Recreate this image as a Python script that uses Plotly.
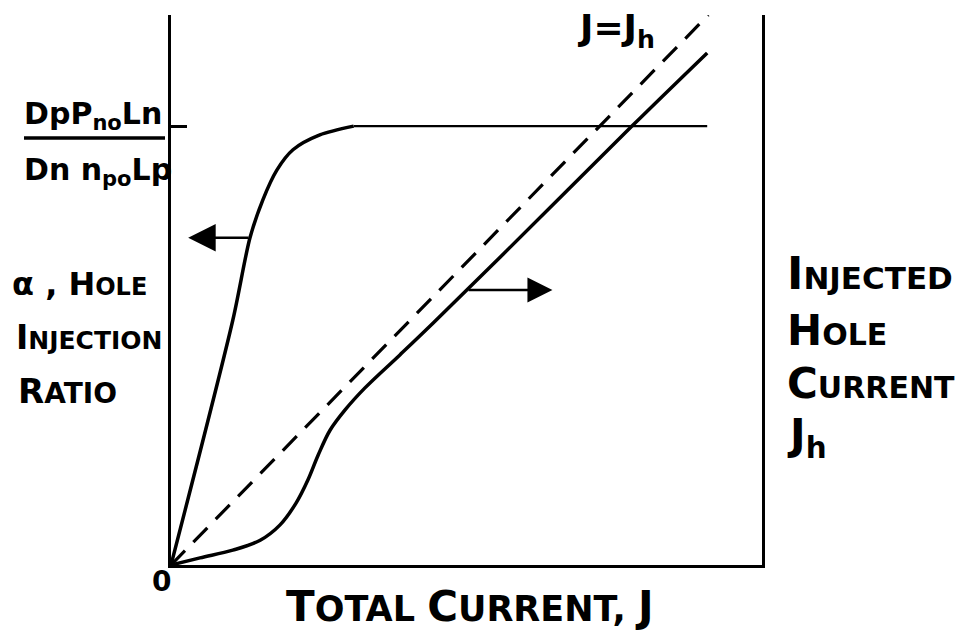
import plotly.graph_objects as go

# ---- data ----
# Injected hole current Jh vs total current J (right axis)
J_jh = [0, 0.54, 1.15, 1.66, 2.03, 2.33, 2.55, 2.74, 2.96, 3.24, 3.61, 4.26, 4.88, 6.13, 8.58, 9.98]
Jh = [0, 0.13, 0.27, 0.45, 0.73, 1.13, 1.55, 2.0, 2.45, 2.82, 3.22, 3.82, 4.40, 5.60, 7.98, 9.31]
# reference line J = Jh
J_ref = [0, 10]
Jh_ref = [0, 10]
# hole injection ratio alpha vs total current J (left axis)
J_alpha = [0, 1.15, 1.47, 1.71, 1.97, 2.27, 2.77, 3.4]
alpha = [0, 0.445, 0.595, 0.664, 0.718, 0.755, 0.782, 0.798]
alpha_sat = 0.798
J_sat = [3.4, 9.98]
# arrows pointing to each curve's axis
arrow_left = dict(J_from=1.47, J_to=0.32, val=0.595)
arrow_right = dict(J_from=5.51, J_to=7.10, val=5.0)

FONT = "DejaVu Sans"

fig = go.Figure()

fig.add_trace(go.Scatter(x=J_alpha, y=alpha, mode="lines", yaxis="y",
                         line=dict(color="black", width=3.5, shape="spline", smoothing=0.8),
                         hoverinfo="skip"))
fig.add_trace(go.Scatter(x=J_sat, y=[alpha_sat, alpha_sat], mode="lines", yaxis="y",
                         line=dict(color="black", width=2.2), hoverinfo="skip"))
fig.add_trace(go.Scatter(x=J_ref, y=Jh_ref, mode="lines", yaxis="y2",
                         line=dict(color="black", width=3.2, dash="20px,12px"),
                         hoverinfo="skip"))
fig.add_trace(go.Scatter(x=J_jh, y=Jh, mode="lines", yaxis="y2",
                         line=dict(color="black", width=3.5, shape="spline", smoothing=1.0),
                         hoverinfo="skip"))

L, R, T, B = 171, 205, 15, 70
W, H = 967, 635
PW, PH = W - L - R, H - T - B


def px(xp):
    return (xp - L) / PW


def py(yp):
    return (H - B - yp) / PH


def sc(first, rest, small):
    return f"{first}<span style='font-size:{small}px'>{rest}</span>"


anns = []


def label(text, x, y, size, xanchor="left"):
    anns.append(dict(text=text, x=px(x), y=py(y), xref="paper", yref="paper",
                     xanchor=xanchor, yanchor="middle", showarrow=False,
                     font=dict(family=FONT, size=size, color="black", weight="bold")))


# right axis title (small caps look)
label(sc("I", "NJECTED", 31), 785, 273, 44)
label(sc("H", "OLE", 30), 785, 331, 42)
label(sc("C", "URRENT", 30), 785, 383, 42)
label("J<sub>h</sub>", 785, 437, 42)

# left axis title
label("α , " + sc("H", "OLE", 24), 10, 284, 32)
label(sc("I", "NJECTION", 25), 14, 337, 33)
label(sc("R", "ATIO", 28), 16, 391, 34)

# saturation value fraction
label("DpP<sub>no</sub>Ln", 22, 116, 30)
label("Dn n<sub>po</sub>Lp", 22, 172, 30)

# x axis title
label(sc("T", "OTAL ", 35) + sc("C", "URRENT, ", 35) + "J", 470, 606, 42,
      xanchor="center")

# J = Jh reference line label
label("J=J<sub>h</sub>", 575, 31, 36)

# origin
label("0", 161, 581, 28, xanchor="center")

# arrows
anns.append(dict(x=arrow_left["J_to"], y=arrow_left["val"], xref="x", yref="y",
                 ax=arrow_left["J_from"], ay=arrow_left["val"], axref="x", ayref="y",
                 text="", showarrow=True, arrowhead=2, arrowsize=2.2, arrowwidth=2.5,
                 arrowcolor="black"))
anns.append(dict(x=arrow_right["J_to"], y=arrow_right["val"], xref="x", yref="y2",
                 ax=arrow_right["J_from"], ay=arrow_right["val"], axref="x", ayref="y2",
                 text="", showarrow=True, arrowhead=2, arrowsize=2.0, arrowwidth=2.5,
                 arrowcolor="black"))

fig.update_layout(
    width=W, height=H,
    margin=dict(l=L, r=R, t=T, b=B, pad=0),
    paper_bgcolor="white", plot_bgcolor="white",
    showlegend=False,
    annotations=anns,
    shapes=[dict(type="line", xref="paper", yref="paper",
                 x0=px(24), x1=px(165), y0=py(138), y1=py(138),
                 line=dict(color="black", width=3.5))],
    xaxis=dict(range=[0, 11], showline=True, linecolor="black", linewidth=3,
               showgrid=False, zeroline=False, showticklabels=False, ticks=""),
    yaxis=dict(range=[0, 1], showline=True, linecolor="black", linewidth=3,
               showgrid=False, zeroline=False, showticklabels=False,
               tickvals=[alpha_sat], ticks="inside", ticklen=16, tickwidth=3,
               tickcolor="black"),
    yaxis2=dict(range=[0, 10], overlaying="y", side="right", showline=True,
                linecolor="black", linewidth=3, showgrid=False, zeroline=False,
                showticklabels=False, ticks=""),
)

fig.write_html("out.html")
